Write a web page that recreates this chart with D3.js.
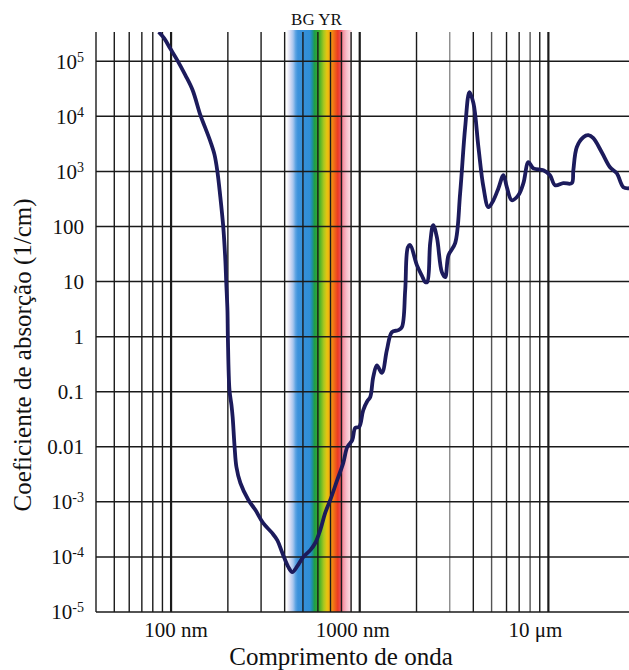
<!DOCTYPE html>
<html>
<head>
<meta charset="utf-8">
<script src="https://cdn.jsdelivr.net/npm/d3@7"></script>
<style>
    body { margin: 0; background: #fff; }
    text { font-family: "Liberation Serif", "Times New Roman", serif; fill: #111; }
</style>
</head>
<body>
<div id="chart"></div>
<script>
// water absorption spectrum
const wavelengthNm = [86, 92, 99, 108, 119, 130, 143, 152, 162, 170,
    176, 182, 189, 194, 196, 199, 200, 204, 209, 212,
    217, 222, 233, 257, 280, 308, 344, 366, 389, 418,
    439, 467, 502, 547, 581, 618, 656, 698, 760, 818,
    859, 913, 947, 994, 1043, 1096, 1137, 1179, 1233, 1311,
    1393, 1481, 1600, 1673, 1742, 1800, 1851, 2009, 2143, 2223,
    2278, 2363, 2451, 2564, 2725, 2838, 2953, 3205, 3406, 3622,
    3816, 4007, 4258, 4527, 4810, 5113, 5435, 5776, 6022, 6399,
    6936, 7372, 7834, 8329, 9408, 10200, 10850, 12000, 13300, 13560,
    14140, 15320, 16290, 17310, 19180, 21220, 23030, 24960, 26750];

const absorption = [3.4e5, 2.6e5, 1.7e5, 1.04e5, 5.6e4, 3.0e4, 1.05e4, 6100, 3400, 2000,
    1000, 370, 100, 24, 10, 3.0, 1.0, 0.107, 0.057, 0.035,
    0.0103, 0.0043, 0.0022, 0.00108, 7.1e-4, 4.1e-4, 2.7e-4, 2.0e-4, 1.18e-4, 6.6e-5,
    5.3e-5, 6.8e-5, 1.0e-4, 1.33e-4, 1.79e-4, 3.1e-4, 6.3e-4, 1.08e-3, 2.5e-3, 5.1e-3,
    9.9e-3, 0.0132, 0.022, 0.023, 0.046, 0.067, 0.080, 0.184, 0.30, 0.22,
    0.57, 1.21, 1.31, 1.49, 7.0, 42, 46, 19.9, 12.5, 9.8,
    9.8, 50, 106, 64, 14.8, 12.0, 30, 50, 402, 6340,
    27400, 17300, 2750, 517, 224, 300, 495, 853, 517, 300,
    370, 611, 1470, 1140, 1050, 853, 562, 611, 611, 1050,
    2750, 4180, 4540, 4010, 2230, 1190, 927, 517, 495];

const yTickValues = [1e-5, 1e-4, 1e-3, 0.01, 0.1, 1, 10, 100, 1e3, 1e4, 1e5];
const yTickLabels = ["10^-5", "10^-4", "10^-3", "0.01", "0.1", "1", "10", "100", "10^3", "10^4", "10^5"];

const xTickValues = [100, 1000, 10000];
const xTickLabels = ["100 nm", "1000 nm", "10 \u03bcm"];

const gridNm = [40, 50, 60, 70, 80, 90, 100, 200, 300, 400, 500, 600, 700, 800, 900,
    1000, 2000, 3000, 4000, 5000, 6000, 7000, 8000, 9000, 10000];

// visible band (nm) and its colours
const bandNm = [410, 425, 443, 458, 470, 545, 560, 575, 610, 645, 670, 700, 735, 765, 795, 815, 850, 895, 915];
const bandColors = ["#ffffff", "#dfe2f6", "#a8c6ee", "#5aa2e2", "#3b92dc", "#2f8ed6", "#1e8fa0",
    "#1f9e48", "#3fae2a", "#a8c820", "#e8c410", "#f4a010", "#f06818", "#ec3a22", "#ec5060",
    "#f390a0", "#f7bcc8", "#fbe0e6", "#ffffff"];
const bandLabel = "BG YR";

drawChart();

function drawChart(){
    const width = 629;
    const height = 670;
    const left = 96, right = 629, top = 32, bottom = 612;

    const svg = d3.select("#chart")
        .append("svg")
        .attr("width", width)
        .attr("height", height);

    const scaleX = d3.scaleLog()
        .domain([40, 26750])
        .range([left, right]);

    const scaleY = d3.scaleLog()
        .domain([1e-5, 3.4e5])
        .range([bottom, top]);

    // spectrum band
    const defs = svg.append("defs");
    const x0 = scaleX(bandNm[0]);
    const x1 = scaleX(bandNm[bandNm.length - 1]);
    const grad = defs.append("linearGradient")
        .attr("id", "spectrum")
        .attr("x1", "0").attr("x2", "1").attr("y1", "0").attr("y2", "0");
    bandNm.forEach((nm, i) => {
        grad.append("stop")
            .attr("offset", (scaleX(nm) - x0) / (x1 - x0))
            .attr("stop-color", bandColors[i]);
    });
    svg.append("rect")
        .attr("x", x0)
        .attr("y", top - 2)
        .attr("width", x1 - x0)
        .attr("height", bottom - top + 2)
        .attr("fill", "url(#spectrum)");

    svg.append("text")
        .attr("x", scaleX(590))
        .attr("y", 25)
        .attr("text-anchor", "middle")
        .style("font-size", "17px")
        .text(bandLabel);

    // grid
    const grid = svg.append("g").attr("class", "grid");
    grid.selectAll(".vline")
        .data(gridNm)
        .enter()
        .append("line")
        .attr("x1", d => scaleX(d))
        .attr("x2", d => scaleX(d))
        .attr("y1", top)
        .attr("y2", bottom)
        .attr("stroke", d => (d === 3000 ? "#8c8c8c" : (d === 8000 || d === 5000) ? "#555" : "#1a1a1a"))
        .attr("stroke-width", d => (xTickValues.includes(d) ? 2.2 : 1.4));

    grid.selectAll(".hline")
        .data(yTickValues)
        .enter()
        .append("line")
        .attr("x1", left)
        .attr("x2", right)
        .attr("y1", d => scaleY(d))
        .attr("y2", d => scaleY(d))
        .attr("stroke", "#1a1a1a")
        .attr("stroke-width", 1.5);

    // y labels
    const yLabels = svg.append("g")
        .selectAll("text")
        .data(yTickValues)
        .enter()
        .append("text")
        .attr("x", 84)
        .attr("y", d => scaleY(d))
        .attr("dy", "0.35em")
        .attr("text-anchor", "end")
        .style("font-size", "21px");
    yLabels.each(function(d, i){
        const parts = yTickLabels[i].split("^");
        const t = d3.select(this);
        t.append("tspan").text(parts[0]);
        if(parts.length > 1){
            t.append("tspan")
                .attr("dy", "-0.5em")
                .style("font-size", "14px")
                .text(parts[1]);
        }
    });

    // x labels
    const xShift = [5, -7, -13];
    svg.append("g")
        .selectAll("text")
        .data(xTickValues)
        .enter()
        .append("text")
        .attr("x", (d, i) => scaleX(d) + xShift[i])
        .attr("y", 637)
        .attr("text-anchor", "middle")
        .style("font-size", "21px")
        .text((d, i) => xTickLabels[i]);

    svg.append("text")
        .attr("x", 341)
        .attr("y", 665)
        .attr("text-anchor", "middle")
        .style("font-size", "25px")
        .text("Comprimento de onda");

    svg.append("text")
        .attr("transform", "translate(31, 355) rotate(-90)")
        .attr("text-anchor", "middle")
        .style("font-size", "25px")
        .text("Coeficiente de absorção (1/cm)");

    // curve
    defs.append("clipPath")
        .attr("id", "plot")
        .append("rect")
        .attr("x", left).attr("y", top)
        .attr("width", right - left).attr("height", bottom - top);

    const line = d3.line()
        .x((d, i) => scaleX(wavelengthNm[i]))
        .y(d => scaleY(d))
        .curve(d3.curveCatmullRom.alpha(0.5));

    svg.append("path")
        .datum(absorption)
        .attr("clip-path", "url(#plot)")
        .attr("d", line)
        .attr("fill", "none")
        .attr("stroke", "#1c1b5c")
        .attr("stroke-width", 3.8)
        .attr("stroke-linejoin", "round");
}
</script>
</body>
</html>
